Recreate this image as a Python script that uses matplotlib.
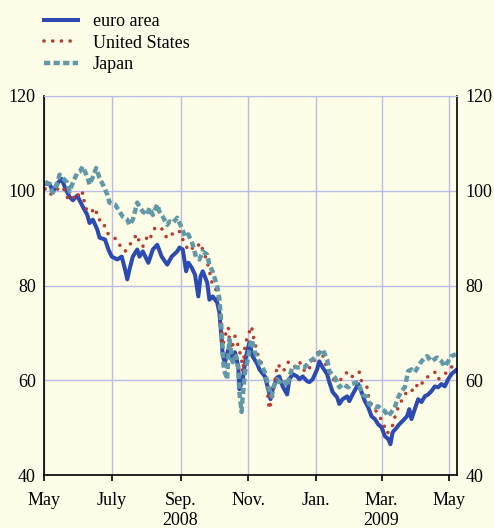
import matplotlib
matplotlib.use("Agg")
import matplotlib.pyplot as plt
import numpy as np
import pandas as pd

# stock market indices, 1 May 2008 = 100 (x = days since 1 May 2008)
start = pd.Timestamp("2008-05-01")

euro_days = [1, 5, 8, 13, 16, 19, 23, 26, 30, 32,
             35, 39, 41, 44, 48, 50, 55, 58, 61, 66,
             70, 73, 75, 77, 80, 84, 86, 89, 94, 98,
             102, 106, 111, 115, 120, 122, 125, 128, 130, 133,
             136, 139, 141, 143, 147, 149, 152, 156, 158, 159,
             160, 161, 163, 166, 169, 172, 175, 176, 179, 182,
             185, 188, 192, 194, 199, 202, 204, 206, 210, 212,
             215, 219, 221, 224, 228, 230, 233, 237, 239, 242,
             246, 248, 251, 255, 257, 260, 264, 266, 269, 273,
             275, 278, 283, 286, 289, 292, 295, 298, 301, 304,
             307, 310, 312, 314, 318, 320, 323, 327, 329, 331,
             334, 337, 340, 343, 346, 349, 352, 355, 358, 361,
             364, 367, 371]
euro_vals = [101.5, 101.5, 99.8, 101.8, 102.5, 100.6, 98.7, 98, 99, 98,
             96.6, 94.9, 93.2, 93.9, 91.8, 90.1, 89.7, 87.6, 86.1, 85.5,
             86.1, 83.4, 81.3, 83.4, 86.1, 87.6, 86.1, 87.2, 84.8, 87.6,
             88.6, 86.1, 84.4, 86.1, 87.2, 88, 87.6, 83, 84.8, 83.8,
             82.3, 77.7, 81.9, 83, 80.6, 77, 77.7, 76.4, 74.3, 71.4,
             68.6, 65.1, 63.8, 66.5, 64.4, 65.9, 62.9, 58.1, 60.2, 65.1,
             68, 65, 63.5, 62.3, 60.8, 58.1, 56, 58.1, 60.6, 60.8,
             58.7, 57, 60.2, 61.3, 60.8, 60.2, 60.8, 59.8, 59.6, 60.2,
             62.3, 64, 62.7, 61.3, 59.6, 57.5, 56.4, 55, 56, 56.6,
             55.6, 57, 59.2, 57.5, 55.6, 54.3, 52.4, 51.8, 50.7, 50.1,
             48.2, 47.6, 46.5, 49, 50.1, 50.7, 51.4, 52.4, 53.9, 51.8,
             53.9, 56, 55.4, 56.6, 57, 57.7, 58.7, 58.5, 59.2, 58.7,
             60.2, 61.3, 62.1]

us_days = [1, 5, 10, 13, 17, 20, 22, 25, 30, 32,
           35, 37, 40, 44, 46, 49, 53, 55, 58, 61,
           66, 68, 73, 76, 80, 84, 86, 89, 93, 95,
           100, 103, 106, 110, 113, 116, 120, 122,
           127, 130, 133, 136, 140, 143, 147, 149, 151, 154,
           157, 158, 160, 161, 164, 166, 167, 169, 172, 175,
           178, 179, 181, 183, 187,
           188, 193, 194, 197, 201, 202, 203, 206, 209, 211,
           214, 217, 220, 223, 226, 230, 233, 237, 241, 244,
           247, 250, 253, 257, 262, 266, 273, 275, 280, 284,
           286, 291, 293, 298, 302, 305, 309, 313, 316, 320,
           323, 327, 329, 334, 337, 340, 344, 347, 352, 355,
           358, 363, 367, 371]
us_vals = [100.4, 99.2, 99.6, 100.6, 100.8, 99.2, 98.1, 98.1, 99.6, 98.5,
           99.6, 96.6, 95.4, 95.8, 96.4, 93.9, 93.7, 92.2, 90.8, 90.3,
           89.7, 88.6, 87.2, 88, 89.7, 90.8, 89, 88.2, 90.3, 89.7,
           92.2, 91.8, 92, 90.3, 91.2, 90.8, 90.8, 91.4,
           88.6, 87.6, 88.2, 86.5, 89, 87.6, 85, 83, 80.8, 79.8,
           77, 73.9, 70.7, 67.2, 70.1, 71.2, 68.6, 66.5, 69.3, 67.2,
           64.4, 61.7, 67.2, 69, 71.4,
           69.7, 65.1, 64.8, 62.9, 59.2, 55.4, 53.9, 56.6, 61.7, 63.4,
           61.9, 62.3, 63.8, 63.8, 62.9, 64, 62.3, 61.7, 63.4, 64.4,
           65.9, 66.1, 63.8, 61.3, 59.8, 59.8, 61.7, 60.8, 60.8, 61.7,
           59.8, 58.5, 55.6, 53.9, 52.4, 51.2, 48.8, 49.7, 52.2, 54.9,
           56, 57.7, 58.1, 57.7, 59.6, 59.2, 60.6, 60.8, 61.7, 60.2,
           60.8, 61.7, 62.7, 64.4]

japan_days = [1, 5, 8, 12, 14, 17, 21, 23, 26, 30,
              32, 35, 39, 41, 44, 47, 50, 53, 57, 59,
              64, 68, 71, 75, 77, 80, 84, 86, 89, 93,
              95, 98, 102, 104, 107, 111, 113, 116, 120,
              124, 127, 130, 134, 137, 140, 143, 147, 149, 152,
              156, 158, 159, 160, 161, 162, 165, 166, 167, 170,
              173, 175, 176, 178, 179, 181, 183, 185,
              187, 190, 194, 199, 202, 205, 207, 210, 212, 215,
              219, 221, 224, 228, 230, 235, 238, 242, 247, 251,
              255, 257, 262, 266, 269, 274, 277,
              283, 287, 291, 293, 298, 301, 304, 307, 310, 313,
              316, 319, 322, 325, 328, 331, 334, 337, 340, 345,
              349, 354, 358, 361, 364, 367, 371]
japan_vals = [101.9, 101.3, 99.6, 101.7, 103.4, 102.7, 101.7, 99.8, 101.7, 103.8,
              104, 105.1, 102.9, 101.3, 102.9, 104.8, 102.7, 101.3, 99.2, 97.5,
              97.1, 95.6, 94.5, 93.9, 92.8, 93.9, 97.5, 96.6, 95.6, 94.9,
              96.4, 94.9, 97.1, 95.6, 94.5, 92.8, 93.5, 93.2, 94.3,
              92.2, 90.3, 90.8, 88.6, 85.9, 85.5, 87.2, 86.5, 84.4, 82.9,
              79.8, 77.1, 74.3, 70.1, 66.5, 62.3, 60.2, 65.1, 68.6, 63.8,
              65.1, 62.3, 57.4, 53.3, 56.6, 61.6, 63.8, 66.5,
              68.6, 65.9, 63.8, 61.7, 58.7, 56.6, 58.7, 60.2, 59.6, 60.2,
              58.7, 60.8, 62.9, 62.7, 62.7, 62.7, 63.8, 64.4, 65.5, 66.5,
              64.4, 61.9, 60.6, 58.5, 59.2, 58.5, 59.2,
              59.6, 57, 56.4, 54.9, 54.3, 54.5, 53.9, 53.5, 52.4, 53.3,
              54.3, 56.4, 57.7, 58.5, 61.9, 62.3, 61.7, 62.9, 64, 65.1,
              64, 64.8, 64, 62.9, 64, 65.1, 65.5]

month_ticks = ["2008-05-01", "2008-07-01", "2008-09-01", "2008-11-01",
               "2009-01-01", "2009-03-01", "2009-05-01"]
month_labels = ["May", "July", "Sep.", "Nov.", "Jan.", "Mar.", "May"]
year_labels = [("2008-09-01", "2008"), ("2009-03-01", "2009")]
y_ticks = [40, 60, 80, 100, 120]

bg = "#FEFDE8"
grid_col = "#B8BCE6"
plt.rcParams["font.family"] = ["Liberation Serif", "DejaVu Serif"]

def to_dates(days):
    return start + pd.to_timedelta(np.array(days), unit="D")

fig = plt.figure(figsize=(4.94, 5.28), dpi=100, facecolor=bg)
ax = fig.add_axes([44 / 494, 1 - 475 / 528, (457 - 44) / 494, (475 - 96) / 528])
ax.set_facecolor(bg)

ax.plot(to_dates(euro_days), euro_vals, color="#2C4BB2", lw=2.9,
        solid_joinstyle="round", label="euro area")
ax.plot(to_dates(us_days), us_vals, color="#BC3A2E", lw=2.6,
        linestyle=(0, (0.01, 2.4)), dash_capstyle="round", label="United States")
ax.plot(to_dates(japan_days), japan_vals, color="#6199A8", lw=3.2,
        linestyle=(0, (1.4, 0.75)), label="Japan")

ax.set_xlim(start, pd.Timestamp("2009-05-08"))
ax.set_ylim(40, 120)
ax.set_yticks(y_ticks)
ax.set_xticks(pd.to_datetime(month_ticks))
ax.set_xticklabels(month_labels)
ax.grid(True, color=grid_col, lw=1.0)
ax.set_axisbelow(True)

ax.tick_params(axis="y", length=0, labelsize=13, labelleft=True, labelright=True, pad=6)
ax.tick_params(axis="x", length=4, width=1.2, direction="out", labelsize=13, pad=8)
for side in ["left", "right", "bottom"]:
    ax.spines[side].set_color("black")
    ax.spines[side].set_linewidth(1.2)
ax.spines["top"].set_color(grid_col)

for d, yr in year_labels:
    ax.text(pd.Timestamp(d), -0.097, yr, transform=ax.get_xaxis_transform(),
            ha="center", va="top", fontsize=13)

fig.legend(loc="upper left", bbox_to_anchor=(44 / 494, 1 - 13 / 528), frameon=False,
           fontsize=13, handlelength=1.9, handletextpad=0.8, labelspacing=0.25,
           borderpad=0, borderaxespad=0)

fig.savefig("out.png", dpi=100, facecolor=bg)
